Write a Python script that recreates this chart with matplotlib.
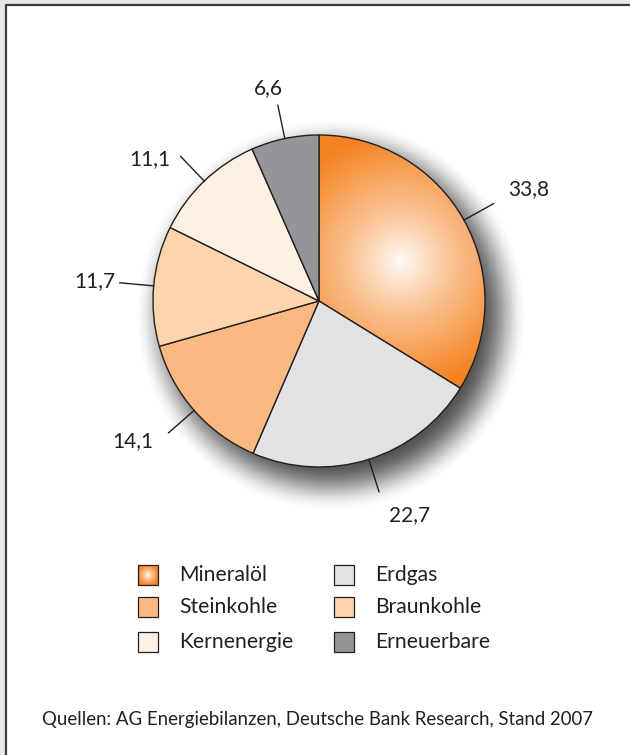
import numpy as np
import matplotlib.pyplot as plt
from matplotlib.patches import Rectangle
from matplotlib.colors import to_rgb

# Primärenergieverbrauch Deutschland, Anteile in %
labels = ['Mineralöl', 'Erdgas', 'Steinkohle', 'Braunkohle', 'Kernenergie', 'Erneuerbare']
values = [33.8, 22.7, 14.1, 11.7, 11.1, 6.6]
value_text = ['33,8', '22,7', '14,1', '11,7', '11,1', '6,6']
colors = ['#f58220', '#e1e2e4', '#fbb982', '#fdd5ac', '#fef0e2', '#939598']
source = 'Quellen: AG Energiebilanzen, Deutsche Bank Research, Stand 2007'

# where the value labels sit: (angle clockwise from top, distance from centre) in px
label_pos = [(62, 238), (157, 233), (233, 233), (275, 225), (310, 221), (346.5, 219)]

FONT = ['Lato', 'DejaVu Sans']
plt.rcParams['font.family'] = FONT
TXT = '#231f20'

W, H = 630, 755
fig = plt.figure(figsize=(6.3, 7.55), dpi=100)
fig.patch.set_facecolor('#e6e7e8')
ax = fig.add_axes([0, 0, 1, 1])

# white panel, dark line at top and left
ax.add_patch(Rectangle((5.5, 0), W, H - 4.5, facecolor='white', edgecolor='none', zorder=0))
ax.plot([5.5, 5.5, W], [0, H - 4.5, H - 4.5], color='#3a3a3c', lw=1.6, zorder=1)

cx, cy, R = 319, H - 301, 166

wedges, _ = ax.pie(values, colors=colors, startangle=90, counterclock=False,
                   center=(cx, cy), radius=R, frame=True,
                   wedgeprops=dict(edgecolor=TXT, linewidth=1.0, zorder=3))

# soft shadow bottom right
n = 500
gx = np.linspace(cx - R - 60, cx + R + 80, n)
gy = np.linspace(cy - R - 80, cy + R + 60, n)
X, Y = np.meshgrid(gx, gy)
d = np.hypot(X - (cx + 12), Y - (cy - 14))
s = np.clip((R + 6 + 25 - d) / 50, 0, 1)
s = s * s * (3 - 2 * s)
sh = np.zeros((n, n, 4))
sh[..., :3] = 0.2
sh[..., 3] = 0.85 * s
ax.imshow(sh, extent=(gx[0], gx[-1], gy[0], gy[-1]), origin='lower', zorder=2,
          interpolation='bilinear')

# radial gradient in Mineralöl slice
gx = np.linspace(cx - R, cx + R, 400)
gy = np.linspace(cy - R, cy + R, 400)
X, Y = np.meshgrid(gx, gy)
d = np.hypot(X - (cx + 82), Y - (cy + 40))
t = np.clip(d / 130, 0, 1) ** 0.8
orange = np.array(to_rgb(colors[0]))
grad = (1 - t)[..., None] * np.ones(3) + t[..., None] * orange
im = ax.imshow(grad, extent=(gx[0], gx[-1], gy[0], gy[-1]), origin='lower', zorder=2.5,
               interpolation='bilinear')
im.set_clip_path(wedges[0])
wedges[0].set_facecolor('none')

# value labels with leader lines
for w, txt, (ta, tr) in zip(wedges, value_text, label_pos):
    a = np.deg2rad((w.theta1 + w.theta2) / 2)
    ux, uy = np.cos(a), np.sin(a)
    ax.plot([cx + R * ux, cx + (R + 34) * ux], [cy + R * uy, cy + (R + 34) * uy],
            color=TXT, lw=1.0, zorder=4)
    b = np.deg2rad(ta)
    ax.text(cx + tr * np.sin(b), cy + tr * np.cos(b), txt, fontsize=15, color=TXT,
            ha='center', va='center')

# legend, two columns
row_y = [575, 607, 642]
col_x = [138, 334]
for i, lab in enumerate(labels):
    x0 = col_x[i % 2]
    y0 = H - row_y[i // 2]
    if i == 0:
        lx = np.linspace(-1, 1, 60)
        LX, LY = np.meshgrid(lx, lx)
        tt = np.clip(np.hypot(LX, LY) / 1.1, 0, 1) ** 0.8
        g2 = (1 - tt)[..., None] * np.ones(3) + tt[..., None] * orange
        ax.imshow(g2, extent=(x0, x0 + 20, y0 - 10, y0 + 10), origin='lower', zorder=3,
                  interpolation='bilinear')
        fc = 'none'
    else:
        fc = colors[i]
    ax.add_patch(Rectangle((x0, y0 - 10), 20, 20, facecolor=fc, edgecolor=TXT,
                           lw=0.9, zorder=4))
    ax.text(x0 + 41, y0, lab, fontsize=15.2, color=TXT, ha='left', va='center')

ax.text(42, H - 720, source, fontsize=13.4, color=TXT, ha='left', va='center')

ax.set_xlim(0, W)
ax.set_ylim(0, H)
ax.set_aspect('auto')
ax.axis('off')

fig.savefig('out.png', dpi=100, facecolor=fig.get_facecolor())
